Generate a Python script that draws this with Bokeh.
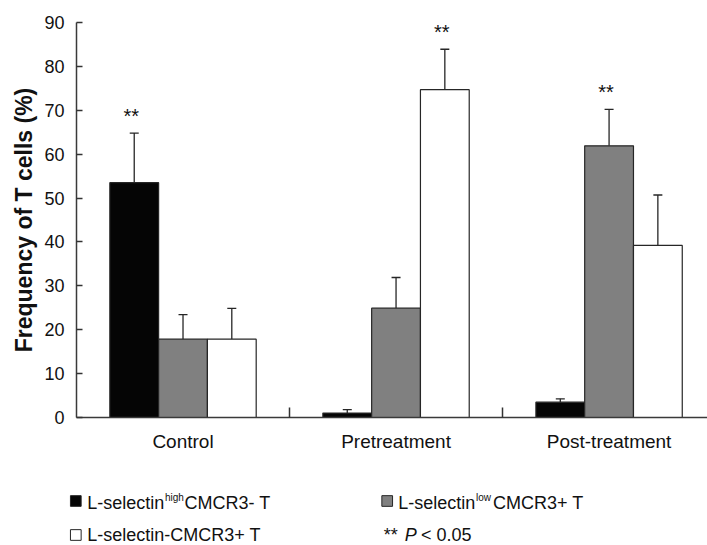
from bokeh.plotting import figure
from bokeh.models import (ColumnDataSource, Range1d, FixedTicker, Whisker, TeeHead)
from bokeh.layouts import column
from bokeh.embed import file_html
from bokeh.resources import INLINE
from bokeh.core.properties import value

# ---------------- data ----------------
groups = ["Control", "Pretreatment", "Post-treatment"]
series_labels = ["L-selectin high CMCR3- T", "L-selectin low CMCR3+ T", "L-selectin-CMCR3+ T"]
high_vals = [53.5, 1.0, 3.5]
high_err = [11.3, 0.8, 0.75]
low_vals = [17.85, 24.9, 61.9]
low_err = [5.6, 7.0, 8.3]
neg_vals = [17.85, 74.7, 39.2]
neg_err = [7.0, 9.2, 11.5]
high_sig = [True, False, False]
low_sig = [False, False, True]
neg_sig = [False, True, False]
y_ticks = [0, 10, 20, 30, 40, 50, 60, 70, 80, 90]

FONT = "Liberation Sans"
series_fill = ["#050505", "#808080", "#ffffff"]
bar_w = 0.229
offsets = [-bar_w, 0.0, bar_w]

p = figure(width=707, height=460, output_backend="svg", toolbar_location=None,
           x_range=Range1d(0, 2.962), y_range=Range1d(0, 90),
           min_border_left=76, min_border_right=0, min_border_top=22, min_border_bottom=43)
p.outline_line_color = None
p.grid.visible = False
p.background_fill_color = "white"
p.border_fill_color = "white"

centers = [i + 0.5 for i in range(len(groups))]
all_vals = [high_vals, low_vals, neg_vals]
all_err = [high_err, low_err, neg_err]
all_sig = [high_sig, low_sig, neg_sig]

for k in range(3):
    xs = [c + offsets[k] for c in centers]
    src = ColumnDataSource(dict(x=xs, top=all_vals[k],
                                upper=[v + e for v, e in zip(all_vals[k], all_err[k])]))
    p.vbar(x="x", top="top", bottom=0, width=bar_w, source=src,
           fill_color=series_fill[k], line_color="#262626", line_width=1.2)
    w = Whisker(source=src, base="x", upper="upper", lower="top",
                upper_head=TeeHead(size=9, line_color="#262626", line_width=1.3),
                lower_head=None, line_color="#262626", line_width=1.3)
    p.add_layout(w)
    sx = [x for x, s in zip(xs, all_sig[k]) if s]
    sy = [v + e for v, e, s in zip(all_vals[k], all_err[k], all_sig[k]) if s]
    if sx:
        ssrc = ColumnDataSource(dict(x=sx, y=sy, t=["**"] * len(sx)))
        p.text(x="x", y="y", text="t", source=ssrc, text_align="center",
               text_baseline="middle", y_offset=-17, x_offset=-3,
               text_font=value(FONT), text_font_size="20px", text_color="#111111")

# axes
xa = p.xaxis[0]
xa.ticker = FixedTicker(ticks=centers, minor_ticks=[1, 2])
xa.major_label_overrides = {c: g for c, g in zip(centers, groups)}
xa.major_tick_in = 0
xa.major_tick_out = 0
xa.minor_tick_in = 10
xa.minor_tick_out = 0
xa.minor_tick_line_color = "#333333"
xa.minor_tick_line_width = 1.5
xa.axis_line_color = "#3a3a3a"
xa.axis_line_width = 1.5
xa.major_label_text_font = FONT
xa.major_label_text_font_size = "19px"
xa.major_label_text_color = "#111111"
xa.major_label_standoff = 13

ya = p.yaxis[0]
ya.ticker = FixedTicker(ticks=y_ticks)
ya.major_tick_in = 6
ya.major_tick_out = 0
ya.minor_tick_line_color = None
ya.major_tick_line_color = "#333333"
ya.major_tick_line_width = 1.5
ya.axis_line_color = "#3a3a3a"
ya.axis_line_width = 1.5
ya.major_label_text_font = FONT
ya.major_label_text_font_size = "18px"
ya.major_label_text_color = "#111111"
ya.major_label_standoff = 12
ya.axis_label = "Frequency of T cells (%)"
ya.axis_label_text_font = FONT
ya.axis_label_text_font_style = "bold"
ya.axis_label_text_font_size = "23px"
ya.axis_label_text_color = "#111111"
ya.axis_label_standoff = 4

# ---------------- legend (separate strip below, its own full-width frame) ----------------
lg = figure(width=707, height=85, output_backend="svg", toolbar_location=None,
            x_range=Range1d(0, 707), y_range=Range1d(85, 0),
            x_axis_type=None, y_axis_type=None,
            min_border_left=0, min_border_right=0,
            min_border_top=0, min_border_bottom=0)
lg.frame_align = False
lg.outline_line_color = None
lg.grid.visible = False

sq_src = ColumnDataSource(dict(x=[75.3, 386.7, 75.3], y=[40.5, 40.5, 74.5], c=series_fill))
lg.rect(x="x", y="y", width=10.7, height=10.7, source=sq_src, fill_color="c",
        line_color="#262626", line_width=1)

def txt(x, y, s, size="18px", style="normal"):
    lg.text(x=[x], y=[y], text=[s], text_font=value(FONT), text_font_size=size,
            text_font_style=style, text_baseline="middle", text_align="left",
            text_color="#111111")

txt(86.7, 42.5, "L-selectin")
txt(164.5, 36.5, "high", "10px")
txt(184, 42.5, "CMCR3- T")
txt(397.7, 42.5, "L-selectin")
txt(475.5, 36.5, "low", "10px")
txt(492.5, 42.5, "CMCR3+ T")
txt(86.7, 74.5, "L-selectin-CMCR3+ T")
txt(383.3, 74.5, "**")
txt(404.3, 74.5, "P", style="italic")
txt(420.5, 74.5, "< 0.05")

layout = column(p, lg, spacing=0)
open("out.html", "w").write(file_html(layout, INLINE))
